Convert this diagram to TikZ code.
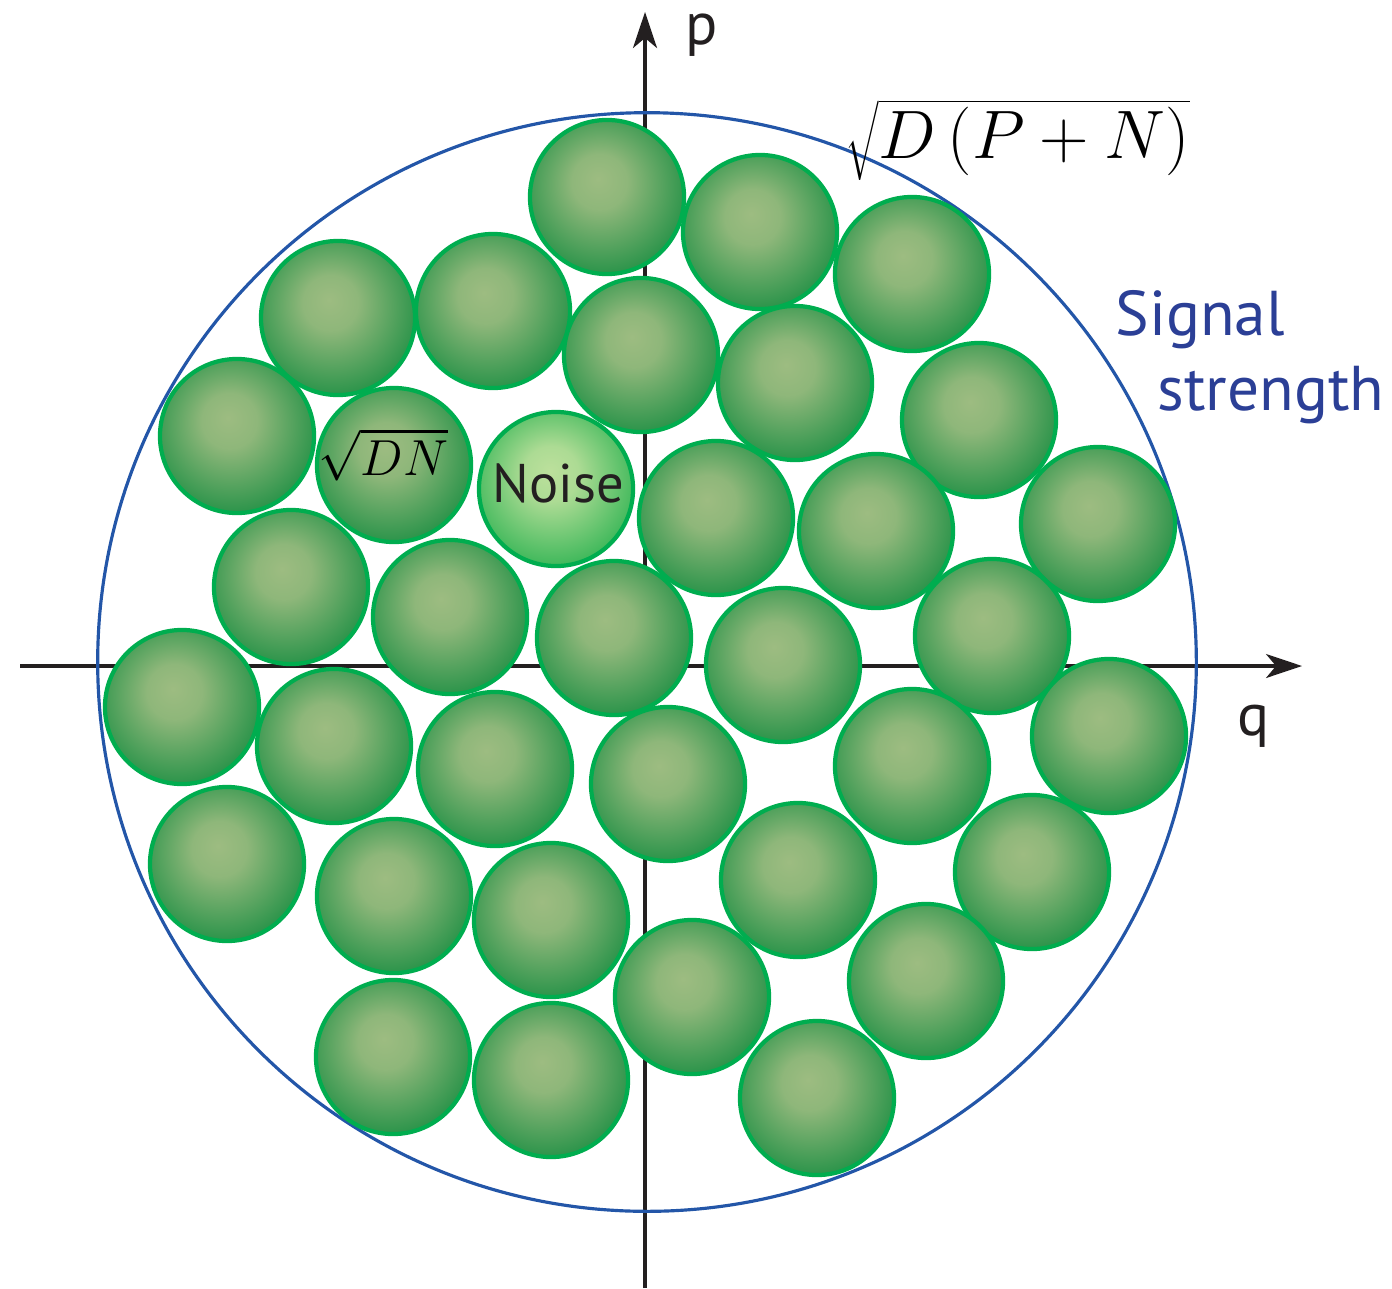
\documentclass[tikz,border=0pt]{standalone}
\usepackage{fontspec}
\setsansfont{PT Sans}
\usetikzlibrary{arrows.meta}
\definecolor{ballhi}{HTML}{9DBC81}
\definecolor{balllo}{HTML}{0A883A}
\definecolor{ballrim}{HTML}{00AD4F}
\definecolor{noisehi}{HTML}{BCE09C}
\definecolor{noiselo}{HTML}{1FAE4A}
\definecolor{ringblue}{HTML}{2356A8}
\definecolor{textblue}{HTML}{2B3F96}
\definecolor{axisblack}{HTML}{231F20}
\pgfdeclareradialshading{ballshade}{\pgfpoint{-3bp}{6bp}}{color(0bp)=(ballhi); color(9bp)=(ballhi!90!balllo); color(34bp)=(balllo); color(50bp)=(balllo)}
\pgfdeclareradialshading{noiseshade}{\pgfpoint{-2bp}{6bp}}{color(0bp)=(noisehi); color(9bp)=(noisehi!90!noiselo); color(33bp)=(noiselo); color(50bp)=(noiselo)}
\tikzset{
  ball/.style={
    circle,
    draw=ballrim,
    line width=1.2pt,
    shading=ballshade,
    minimum size=1.54cm,
    inner sep=0pt
  },
  noiseball/.style={
    ball,
    shading=noiseshade
  },
  axis/.style={
    -{Stealth[length=3.6mm,width=2.4mm,inset=1mm]},
    line width=0.9pt,
    draw=axisblack
  },
  axislabel/.style={
    anchor=base west,
    inner sep=0pt,
    font=\sffamily\fontsize{17}{20}\selectfont,
    text=axisblack
  },
  signaltext/.style={
    anchor=base west,
    inner sep=0pt,
    font=\sffamily\fontsize{18}{22}\selectfont,
    text=textblue
  }
}

\begin{document}
\begin{tikzpicture}[x=0.01cm,y=-0.01cm]
\useasboundingbox (0,0) rectangle (1392,1288);
% axes
\coordinate (qstart) at (20,666);
\coordinate (qend) at (1302,666);
\coordinate (pstart) at (645,1288);
\coordinate (pend) at (645,12);
\draw[axis] (qstart) -- (qend);
\draw[axis] (pstart) -- (pend);
% signal circle
\node[circle, draw=ringblue, line width=0.9pt, minimum size=10.98cm, inner sep=0pt] (ring) at (647,662) {};
% balls
\foreach \x/\y [count=\i] in {607/197, 760/232, 912/274, 338/318, 493/311, 641/355,
  795/383, 979/420, 237/436, 394/465, 716/518, 876/531, 1098/524, 291/587,
  450/617, 614/638, 783/665, 992/636, 182/707, 334/746, 495/769, 668/784,
  912/766, 1109/736, 227/864, 394/896, 551/920, 798/880, 1032/872, 692/997,
  926/981, 393/1057, 551/1080, 817/1098}
  \node[ball] (b\i) at (\x,\y) {};
\node[noiseball] (noise) at (556,489) {};
% labels
\node[anchor=base west, inner sep=0pt, font=\fontsize{15.5}{18}\selectfont] (dnlabel) at (318,475) {$\sqrt{DN}$};
\node[anchor=base west, inner sep=0pt, font=\sffamily\fontsize{15.5}{18}\selectfont, text=axisblack] (noiselabel) at (492,502) {Noise};
\node[anchor=base west, inner sep=0pt, font=\fontsize{20}{24}\selectfont] (radius) at (845,159) {\scalebox{0.94}{$\sqrt{D\,(P+N)}$}};
\node[signaltext] (signal) at (1115,335) {Signal};
\node[signaltext] (strength) at (1157,410) {strength};
\node[axislabel] (plabel) at (685,45) {p};
\node[axislabel] (qlabel) at (1237,735) {q};
\end{tikzpicture}
\end{document}
